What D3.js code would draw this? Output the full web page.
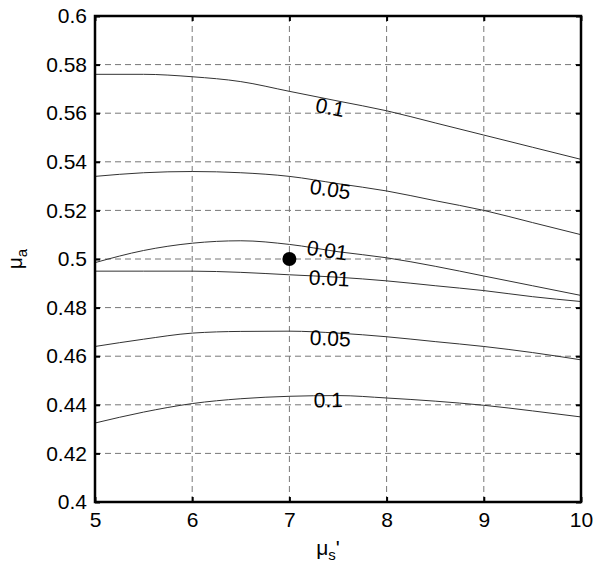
<!DOCTYPE html>
<html>
<head>
<meta charset="utf-8">
<script src="https://cdn.jsdelivr.net/npm/d3@7"></script>
<style>
  body { margin: 0; background: #fff; }
  svg { font-family: "Liberation Sans", Arial, sans-serif; }
</style>
</head>
<body>
<div id="chart"></div>
<script>
// Data
var xTicks = [5, 6, 7, 8, 9, 10];
var yTicks = [0.4, 0.42, 0.44, 0.46, 0.48, 0.5, 0.52, 0.54, 0.56, 0.58, 0.6];
var musX = [5, 5.5, 6, 6.5, 7, 7.5, 8, 8.5, 9, 9.5, 10];

var upper01  = [0.576, 0.576, 0.575, 0.573, 0.569, 0.565, 0.561, 0.556, 0.551, 0.546, 0.541];
var upper005 = [0.534, 0.5355, 0.536, 0.5355, 0.534, 0.531, 0.528, 0.524, 0.520, 0.515, 0.510];
var upper001 = [0.4985, 0.5035, 0.5065, 0.5075, 0.506, 0.503, 0.5005, 0.497, 0.493, 0.489, 0.485];
var lower001 = [0.495, 0.495, 0.495, 0.4945, 0.4935, 0.4925, 0.491, 0.489, 0.487, 0.4845, 0.4825];
var lower005 = [0.464, 0.467, 0.4695, 0.4702, 0.4703, 0.4695, 0.468, 0.466, 0.464, 0.4615, 0.4585];
var lower01  = [0.4325, 0.437, 0.4405, 0.4425, 0.4435, 0.4438, 0.4428, 0.4415, 0.4398, 0.4375, 0.435];

var contourLevels = ['0.1', '0.05', '0.01', '0.01', '0.05', '0.1'];
var contourSeries = [upper01, upper005, upper001, lower001, lower005, lower01];
// label anchor on each contour (x in mu_s', y in mu_a)
var labelX = [7.42, 7.42, 7.39, 7.41, 7.42, 7.40];
var labelY = [0.5625, 0.5288, 0.5037, 0.4922, 0.4675, 0.4421];

var truePoint = {x: 7, y: 0.5};

var margin = {top: 16, right: 20, bottom: 75, left: 95};
var W = 601, H = 577;
var width = W - margin.left - margin.right;
var height = H - margin.top - margin.bottom;

var svg = d3.select('#chart').append('svg')
    .attr('width', W)
    .attr('height', H);
var plotArea = svg.append('g')
    .attr('transform', `translate(${margin.left}, ${margin.top})`);

var x = d3.scaleLinear().domain([5, 10]).range([0, width]);
var y = d3.scaleLinear().domain([0.4, 0.6]).range([height, 0]);

// Grid
plotArea.append('g').selectAll('line')
  .data(xTicks.slice(1, -1))
  .join('line')
    .attr('x1', d => x(d)).attr('x2', d => x(d))
    .attr('y1', 0).attr('y2', height)
    .attr('stroke', '#777').attr('stroke-width', 1)
    .attr('stroke-dasharray', '6,4');
plotArea.append('g').selectAll('line')
  .data(yTicks.slice(1, -1))
  .join('line')
    .attr('y1', d => y(d)).attr('y2', d => y(d))
    .attr('x1', 0).attr('x2', width)
    .attr('stroke', '#777').attr('stroke-width', 1)
    .attr('stroke-dasharray', '6,4');

// Contour lines
var line = d3.line()
    .x((d, i) => x(musX[i]))
    .y(d => y(d))
    .curve(d3.curveMonotoneX);

plotArea.append('g').selectAll('path')
  .data(contourSeries)
  .join('path')
    .attr('d', d => line(d))
    .attr('fill', 'none')
    .attr('stroke', '#333')
    .attr('stroke-width', 1);

// Contour labels rotated along the curve slope
function slopeAngle(series, lx) {
  var i = Math.min(musX.length - 2, Math.floor((lx - 5) / 0.5));
  var dx = x(musX[i + 1]) - x(musX[i]);
  var dy = y(series[i + 1]) - y(series[i]);
  return Math.atan2(dy, dx) * 180 / Math.PI;
}

plotArea.append('g').selectAll('text')
  .data(contourLevels)
  .join('text')
    .attr('transform', (d, i) => `translate(${x(labelX[i])}, ${y(labelY[i])}) rotate(${slopeAngle(contourSeries[i], labelX[i])})`)
    .attr('text-anchor', 'middle')
    .attr('dy', '0.36em')
    .attr('font-size', 21)
    .attr('fill', '#000')
    .text(d => d);

// True value marker
plotArea.append('circle')
    .attr('cx', x(truePoint.x))
    .attr('cy', y(truePoint.y))
    .attr('r', 7)
    .attr('fill', '#000');

// Axes with inward ticks on all four sides
var tickLen = 5;
var xAxisGroup = plotArea.append('g')
    .attr('transform', `translate(0, ${height})`)
    .call(d3.axisBottom(x).tickValues(xTicks).tickSize(-tickLen).tickPadding(10).tickFormat(d3.format('d')));
var yAxisGroup = plotArea.append('g')
    .call(d3.axisLeft(y).tickValues(yTicks).tickSize(-tickLen).tickPadding(8).tickFormat(d => String(+d.toFixed(2))));
var topAxis = plotArea.append('g')
    .call(d3.axisTop(x).tickValues(xTicks).tickSize(-tickLen).tickFormat(''));
var rightAxis = plotArea.append('g')
    .attr('transform', `translate(${width}, 0)`)
    .call(d3.axisRight(y).tickValues(yTicks).tickSize(-tickLen).tickFormat(''));

[xAxisGroup, yAxisGroup, topAxis, rightAxis].forEach(g => {
  g.select('.domain').remove();
  g.selectAll('.tick line').attr('stroke', '#000').attr('stroke-width', 2);
  g.selectAll('.tick text')
    .attr('font-family', '"Liberation Sans", Arial, sans-serif')
    .attr('font-size', 21)
    .attr('fill', '#000');
});
xAxisGroup.selectAll('.tick text').attr('dy', '0.71em');

// Frame
plotArea.append('rect')
    .attr('width', width)
    .attr('height', height)
    .attr('fill', 'none')
    .attr('stroke', '#000')
    .attr('stroke-width', 2.5);

// Axis titles
var xTitle = svg.append('text')
    .attr('x', margin.left + width / 2 - 10)
    .attr('y', 555)
    .attr('text-anchor', 'middle')
    .attr('font-size', 21);
xTitle.append('tspan').text('μ');
xTitle.append('tspan').attr('font-size', 15).attr('dy', 5).text('s');
xTitle.append('tspan').attr('dy', -5).text("'");

var yTitle = svg.append('text')
    .attr('transform', `translate(22, ${margin.top + height / 2}) rotate(-90)`)
    .attr('text-anchor', 'middle')
    .attr('font-size', 21);
yTitle.append('tspan').text('μ');
yTitle.append('tspan').attr('font-size', 15).attr('dy', 5).text('a');
</script>
</body>
</html>
